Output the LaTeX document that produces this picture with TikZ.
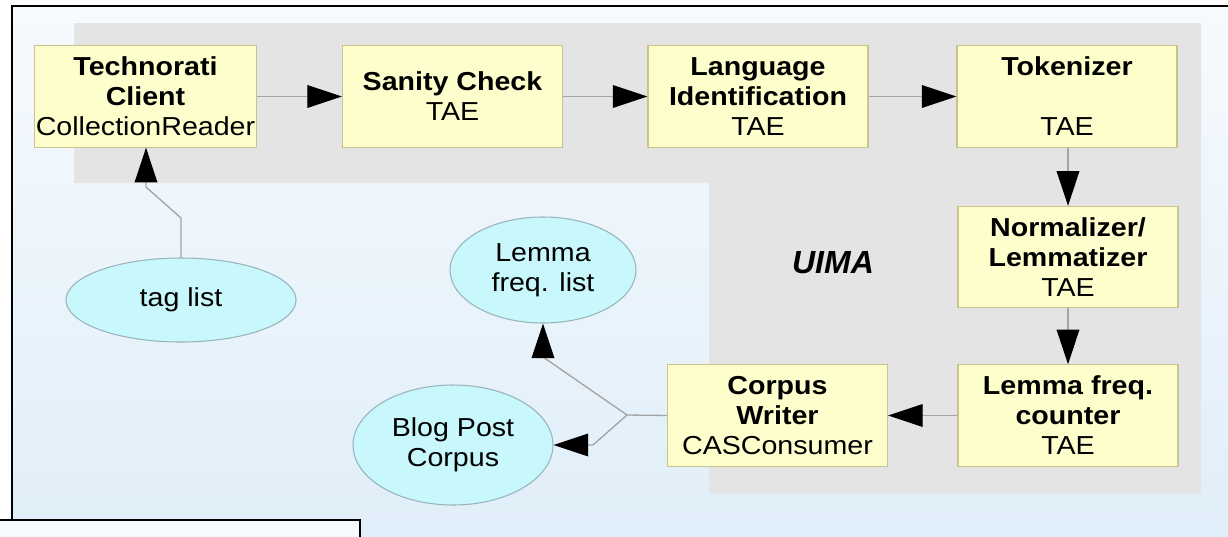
\documentclass[tikz,border=0pt]{standalone}
\usepackage{fontspec}
\setmainfont{Liberation Sans}[FakeStretch=1.1]
\newfontfamily\uimafont{Liberation Sans}
\usetikzlibrary{shapes.geometric,arrows.meta}
\definecolor{bgtop}{HTML}{F6FAFD}
\definecolor{bgbot}{HTML}{E0EEF9}
\definecolor{uimagray}{HTML}{E4E4E4}
\definecolor{boxfill}{HTML}{FEFECC}
\definecolor{boxdraw}{HTML}{C8C48C}
\definecolor{ellfill}{HTML}{C8F8FC}
\definecolor{elldraw}{HTML}{98B4BC}
\definecolor{linegray}{HTML}{A4A4A4}
\definecolor{cornerfill}{HTML}{F6FAFD}
\tikzset{
  x=0.75pt, y=-0.75pt,
  txt/.style={font=\fontsize{19.5pt}{22.5pt}\selectfont, align=center, text=black},
  comp/.style={txt, draw=boxdraw, fill=boxfill, line width=0.8pt, inner sep=0pt,
    minimum width=165pt, minimum height=76pt},
  datum/.style={txt, ellipse, draw=elldraw, fill=ellfill, line width=0.8pt, inner sep=0pt},
  conn/.style={draw=linegray, line width=1pt,
    -{Triangle[length=26pt,width=17pt,color=black,fill=black]}},
  plainline/.style={draw=linegray, line width=1pt}
}
\begin{document}
\begin{tikzpicture}
\useasboundingbox (0,0) rectangle (1228,536);
% background
\fill[white] (0,0) rectangle (1228,536);
\shade[top color=bgtop, bottom color=bgbot] (12,6) rectangle (1228,536);
% UIMA region
\fill[uimagray] (74,23) -- (1201,23) -- (1201,493) -- (709,493) -- (709,183) -- (74,183) -- cycle;
% frame
\draw[black, line width=1.6pt] (12,520) -- (12,6) -- (1229,6);
\fill[cornerfill] (-1,520) rectangle (360,537);
\draw[black, line width=1.6pt] (-1,520) -- (360,520) -- (360,537);

% components
\node[comp, minimum width=167pt] (tech) at (145.5,96.5) {\textbf{Technorati}\\\textbf{Client}\\CollectionReader};
\node[comp] (san) at (452.5,96.5) {\textbf{Sanity Check}\\TAE};
\node[comp] (lang) at (758,96.5) {\textbf{Language}\\\textbf{Identification}\\TAE};
\node[comp] (tok) at (1067,96.5) {\textbf{Tokenizer}\\\mbox{}\\TAE};
\node[comp] (norm) at (1068,257) {\textbf{Normalizer/}\\\textbf{Lemmatizer}\\TAE};
\node[comp] (lfc) at (1068,415.5) {\textbf{Lemma freq.}\\\textbf{counter}\\TAE};
\node[comp] (cw) at (777.5,415.5) {\textbf{Corpus}\\\textbf{Writer}\\CASConsumer};

% data
\node[datum, minimum width=172.5pt, minimum height=63pt] (tag) at (181,300) {tag list};
\node[datum, minimum width=139.5pt, minimum height=79.5pt] (lfl) at (543,270) {Lemma\\freq. list};
\node[datum, minimum width=150pt, minimum height=90pt] (blog) at (453,445) {Blog Post\\Corpus};

\node[font=\uimafont\fontsize{24pt}{28pt}\selectfont\bfseries\itshape] (uima) at (833,263) {UIMA};

% bend points
\coordinate (t1) at (181,218);
\coordinate (t2) at (146,187);
\coordinate (J) at (627,415);
\coordinate (b1) at (593,445);
\coordinate (b2) at (543,357);

% connectors
\draw[conn] (tech.east) -- (san.west);
\draw[conn] (san.east) -- (lang.west);
\draw[conn] (lang.east) -- (tok.west);
\draw[conn] (tok.south -| norm.north) -- (norm.north);
\draw[conn] (norm.south) -- (lfc.north);
\draw[conn] (lfc.west) -- (cw.east);
\draw[conn] (tag.north) -- (t1) -- (t2) -- (t2 |- tech.south);
\draw[plainline] (cw.west) -- (J);
\draw[conn] (J) -- (b1) -- (b1 -| blog.east);
\draw[conn] (J) -- (b2) -- (lfl.south);
\end{tikzpicture}
\end{document}
